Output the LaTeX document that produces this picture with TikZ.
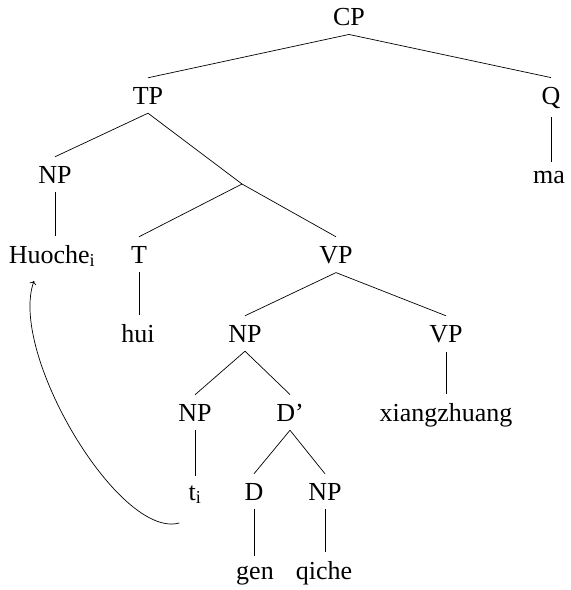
\documentclass[tikz,border=0pt]{standalone}
\usepackage{fontspec}
\setmainfont{Liberation Serif}
\usetikzlibrary{calc,arrows.meta}
\begin{document}
\begin{tikzpicture}[x=1pt,y=-1pt,
  lbl/.style={anchor=base,inner sep=9pt,font=\fontsize{26}{30}\selectfont},
  branch/.style={line width=0.7pt},
  move/.style={line width=0.7pt,-{To[length=3.5pt,width=7pt]}}]
\useasboundingbox (0,0) rectangle (571,590);
% labels of the tree, placed on their baselines
\node[lbl] (cp)    at (349,25)  {CP};
\node[lbl] (tp)    at (148,104) {TP};
\node[lbl] (q)     at (551,104) {Q};
\node[lbl] (np1)   at (55,183)  {NP};
\node[lbl] (ma)    at (549,183) {ma};
\coordinate (tbar) at (242,184);
\node[lbl] (huo)   at (52,263)  {Huoche\textsubscript{i}};
\node[lbl] (t0)    at (139,263) {T};
\node[lbl] (vp1)   at (336,263) {VP};
\node[lbl] (hui)   at (138,342) {hui};
\node[lbl] (np2)   at (245,342) {NP};
\node[lbl] (vp2)   at (446,342) {VP};
\node[lbl] (np3)   at (195,421) {NP};
\node[lbl] (dbar)  at (290,421) {D’};
\node[lbl] (xz)    at (446,421) {xiangzhuang};
\node[lbl] (ti)    at (195,500) {t\textsubscript{i}};
\node[lbl] (d)     at (254,500) {D};
\node[lbl] (np4)   at (325,500) {NP};
\node[lbl] (gen)   at (255,579) {gen};
\node[lbl] (qiche) at (324,579) {qiche};
% branches
\draw[branch] (cp.south) -- (tp.north);
\draw[branch] (cp.south) -- (q.north);
\draw[branch] (q.south) -- (q.south |- ma.north);
\draw[branch] (tp.south) -- (np1.north);
\draw[branch] (tp.south) -- (tbar);
\draw[branch] (np1.south) -- (np1.south |- huo.north);
\draw[branch] (tbar) -- (t0.north);
\draw[branch] (tbar) -- (vp1.north);
\draw[branch] (t0.south) -- (t0.south |- hui.north);
\draw[branch] (vp1.south) -- (np2.north);
\draw[branch] (vp1.south) -- (vp2.north);
\draw[branch] (vp2.south) -- (vp2.south |- xz.north);
\draw[branch] (np2.south) -- (np3.north);
\draw[branch] (np2.south) -- (dbar.north);
\draw[branch] (np3.south) -- (np3.south |- ti.north);
\draw[branch] (dbar.south) -- (d.north);
\draw[branch] (dbar.south) -- (np4.north);
\draw[branch] (d.south) -- (d.south |- gen.north);
\draw[branch] (np4.south) -- (np4.south |- qiche.north);
% movement of the trace to its antecedent
\draw[move] ($(ti.south west)+(0,10)$) .. controls +(-60,17) and +(-26,72) .. ($(huo.south)+(-18,5)$);
\end{tikzpicture}
\end{document}
